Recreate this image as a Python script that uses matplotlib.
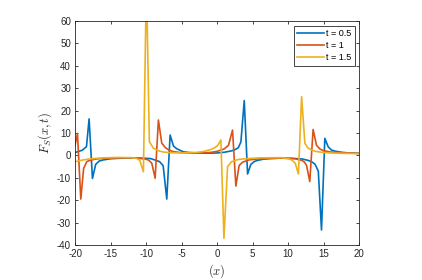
import matplotlib
matplotlib.use("Agg")
import matplotlib.pyplot as plt

# values
x_t05 = [-20, -19.5, -19, -18.4, -18.03, -17.56, -17.1, -16.6, -16, -15, -14, -13, -12, -11,
         -10, -9.4, -8.6, -8.1, -7.6, -7.09, -6.62, -6.15, -5.7, -4.75, -4, -3, -2, -1, 0, 1,
         2, 2.4, 2.98, 3.35, 3.82, 4.29, 4.75, 5.2, 5.7, 6.5, 7.5, 9, 10.5, 12, 12.9, 13.4,
         13.8, 14.25, 14.7, 15.17, 15.65, 16.1, 16.6, 17.5, 18.5, 20]
y_t05 = [1.3, 1.8, 2.3, 3.9, 16.3, -10.3, -4, -2.5, -2, -1.5, -1.3, -1.2, -1.2, -1.2,
         -1.3, -1.4, -2.2, -2.8, -4.6, -19.5, 9.1, 4.2, 3.0, 1.6, 1.3, 1.1, 1.0, 1.0, 1.1, 1.4,
         2.0, 2.4, 3.4, 6.0, 24.5, -8.3, -4, -2.8, -2.2, -1.7, -1.4, -1.2, -1.3, -1.6, -2.3, -3,
         -4, -7, -33.3, 7.6, 3.8, 2.4, 1.9, 1.4, 1.1, 0.9]

x_t1 = [-20, -19.67, -19.2, -18.8, -18.36, -18, -17.5, -17, -16, -14, -12, -11, -10, -9.6,
        -9.2, -8.73, -8.27, -7.8, -7.3, -6.8, -6.2, -5, -3, -1, 0, 1, 1.6, 2.17, 2.64,
        3.1, 3.6, 4.5, 6, 9, 11, 12, 12.3, 12.6, 13.05, 13.52, 14.0, 14.5, 15, 16, 18, 20]
y_t1 = [4.6, 9.8, -19.5, -5.8, -2.8, -2.3, -1.9, -1.6, -1.3, -1.1, -1.1, -1.3, -1.7, -2.2,
        -3.5, -10.2, 15.8, 5.5, 3.5, 2.4, 1.7, 1.2, 1.0, 1.3, 1.8, 2.9, 4.5, 11.3, -13.7,
        -4.5, -3, -2, -1.5, -1.2, -1.5, -2.3, -3, -4.5, -11.7, 11.6, 4.5, 2.8, 2.1, 1.5, 1.1, 0.9]

x_t15 = [-20, -19, -18, -17, -16, -14, -12, -11.3, -10.9, -10.38, -9.96, -9.54, -8.97, -8.2,
         -7.56, -6.5, -5, -3, -2, -1, -0.4, 0.1, 0.53, 0.96, 1.47, 2.03, 3, 4, 6, 9, 10,
         10.5, 11.0, 11.45, 11.9, 12.36, 12.8, 13.3, 14, 15, 16, 18, 20]
y_t15 = [-2.8, -2.1, -1.6, -1.3, -1.1, -0.9, -1.0, -1.4, -2.2, -7.3, 78, 6.1, 3.2, 2.0,
         1.5, 1.2, 1.1, 1.3, 1.7, 2.5, 3.3, 4.5, 6.9, -37, -5, -2.8, -1.8, -1.5, -1.1, -1.0, -1.4,
         -2.0, -3.5, -8.3, 26.2, 5.4, 3.3, 2.4, 1.7, 1.3, 1.1, 0.9, 0.8]

series = [("t = 0.5", x_t05, y_t05, "#0072BD"),
          ("t = 1", x_t1, y_t1, "#D95319"),
          ("t = 1.5", x_t15, y_t15, "#EDB120")]

plt.rcParams['font.family'] = ['Liberation Sans', 'DejaVu Sans']
plt.rcParams['mathtext.fontset'] = 'cm'
plt.rcParams['axes.unicode_minus'] = False  # MATLAB style hyphen minus

fig = plt.figure(figsize=(4.22, 2.80), dpi=100)
ax = fig.add_axes([0.178, 0.125, 0.673, 0.80])

for label, xs, ys, color in series:
    ax.plot(xs, ys, color=color, linewidth=1.2, label=label)

ax.set_xlim(-20, 20)
ax.set_ylim(-40, 60)
ax.set_xticks(range(-20, 21, 5))
ax.set_yticks(range(-40, 61, 10))

grey = "#262626"
for s in ax.spines.values():
    s.set_color(grey)
    s.set_linewidth(0.6)
ax.tick_params(direction="in", length=2.5, width=0.6, colors=grey, labelsize=7,
               top=True, right=True, pad=3)

ax.set_xlabel(r"$(x)$", fontsize=9, color=grey, labelpad=2)
ax.set_ylabel(r"$F_S(x,t)$", fontsize=9, color=grey, labelpad=2)

leg = ax.legend(loc="upper right", fontsize=6.5, frameon=True, fancybox=False,
                edgecolor=grey, framealpha=1, handlelength=3.0, handletextpad=0.15,
                borderpad=0.4, labelspacing=0.35, borderaxespad=0.5)
leg.get_frame().set_linewidth(0.6)

fig.savefig("out.png", dpi=100)
